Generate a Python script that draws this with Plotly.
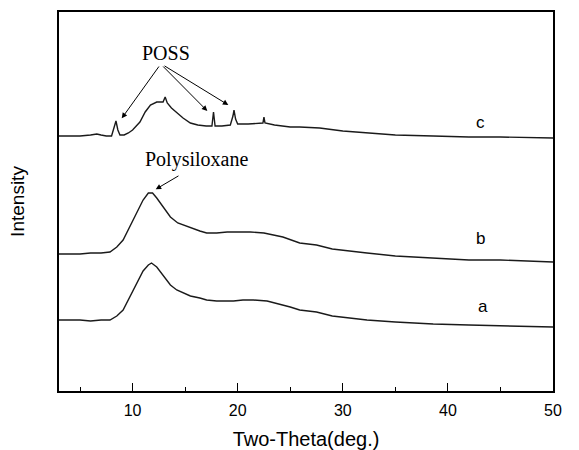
import plotly.graph_objects as go

# Two-theta (deg.) and intensities (arbitrary units)
x_a = [3, 4, 5, 6, 7, 7.85, 8.5, 9.1, 9.75, 10.4, 11, 11.5, 11.8, 12.3, 12.8, 13.2, 13.6, 14.2, 14.8,
       15.5, 16.4, 17.05, 18, 19, 19.6, 20.5, 21.5, 22.8, 24, 25, 25.9, 27.5, 29, 30.5, 32.3, 35,
       38.6, 42, 45, 48, 50]
y_a = [71, 71, 71, 70, 71, 71, 75, 81, 94, 108, 120, 126, 128, 124, 117, 112, 106, 101, 98,
       95, 93, 91, 90, 90, 90, 91, 91, 90, 87, 84, 81, 79, 75, 73, 71, 69,
       67, 66, 65, 64, 64]

x_b = [3, 4, 5, 6, 7, 7.85, 8.5, 9.1, 9.75, 10.4, 11, 11.5, 11.9, 12.3, 12.8, 13.6, 14.3, 15.5,
       16.4, 17.05, 18, 19, 20, 21.2, 22.5, 24.3, 25.9, 27.5, 29, 30.5, 32.3, 35, 38.6, 42, 45,
       48, 50]
y_b = [137, 137, 137, 138, 138, 139, 144, 151, 165, 178, 191, 198, 198, 193, 186, 174, 168, 163,
       160, 158, 158, 159, 159, 159, 158, 154, 148, 146, 142, 140, 138, 135, 133, 131, 131,
       130, 129]

x_c = [3, 4, 5, 6, 6.6, 7, 7.5, 8.0, 8.25, 8.42, 8.6, 8.8, 9.2, 9.6, 10, 10.7, 11.2, 11.7, 12.3,
       12.9, 13.1, 13.3, 13.7, 14.2, 14.8, 15.5, 16.2, 17, 17.55, 17.7, 17.85, 18.5, 19.3, 19.55,
       19.65, 19.8, 20, 21, 22, 22.4, 22.5, 22.6, 23.5, 25, 25.9, 27.8, 30, 32.3, 35, 38.6, 42,
       45, 48, 50]
y_c = [255, 255, 255, 256, 257, 256, 255, 255, 263, 270, 261, 256, 256, 258, 261, 269, 279, 286, 289,
       289, 294, 288, 283, 278, 273, 268, 266, 265, 265, 279, 265, 265, 266, 275,
       281, 272, 267, 267, 268, 268, 274, 268, 266, 264, 264, 263, 260, 258, 256, 255, 254,
       254, 253, 253]

curve_labels = ["a", "b", "c"]
curve_label_pos = [(43.3, 85), (43.1, 153), (43.1, 269)]

x_ticks = [10, 20, 30, 40, 50]

fig = go.Figure()
for xs, ys in [(x_a, y_a), (x_b, y_b), (x_c, y_c)]:
    fig.add_trace(go.Scatter(x=xs, y=ys, mode="lines",
                             line=dict(color="#1a1a1a", width=1.4),
                             showlegend=False, hoverinfo="skip"))

ann = []
for lab, (lx, ly) in zip(curve_labels, curve_label_pos):
    ann.append(dict(x=lx, y=ly, text=lab, showarrow=False, xref="x", yref="y",
                    font=dict(family="Arial, Liberation Sans", size=17, color="black")))

ann.append(dict(x=13.2, y=338, text="POSS", showarrow=False, xref="x", yref="y",
                font=dict(family="Times New Roman, Liberation Serif", size=20, color="black")))
ann.append(dict(x=16.1, y=232, text="Polysiloxane", showarrow=False, xref="x", yref="y",
                font=dict(family="Times New Roman, Liberation Serif", size=20, color="black")))

arrows = [((8.97, 272.7), (12.61, 326)),
          ((17.11, 280), (12.77, 326)),
          ((19.11, 286), (12.9, 326)),
          ((12.2, 201.7), (14.51, 216))]
for (hx, hy), (tx, ty) in arrows:
    ann.append(dict(x=hx, y=hy, ax=tx, ay=ty, xref="x", yref="y", axref="x", ayref="y",
                    text="", showarrow=True, arrowhead=2, arrowsize=1.1, arrowwidth=1,
                    arrowcolor="black", standoff=0, startstandoff=0))

fig.update_layout(
    width=579, height=450,
    margin=dict(l=59, r=26, t=12, b=59),
    paper_bgcolor="white", plot_bgcolor="white",
    font=dict(family="Arial, Liberation Sans", color="black"),
    annotations=ann,
    xaxis=dict(range=[3, 50], tickvals=x_ticks, ticks="inside", ticklen=8, tickwidth=1.2,
               tickcolor="black", showline=True, linecolor="black", linewidth=1.5,
               mirror=True, showgrid=False, zeroline=False, automargin=False,
               tickfont=dict(size=16, color="black"), ticklabelstandoff=4,
               minor=dict(dtick=5, tick0=0, ticks="inside", ticklen=4, tickwidth=1.2,
                          tickcolor="black", showgrid=False),
               title=dict(text="Two-Theta(deg.)", font=dict(size=20, color="black"),
                          standoff=14)),
    yaxis=dict(range=[0, 379], showticklabels=False, ticks="", showline=True,
               linecolor="black", linewidth=1.5, mirror=True, showgrid=False, zeroline=False,
               automargin=False,
               title=dict(text="Intensity", font=dict(size=19, color="black"), standoff=28)),
)

fig.write_html("out.html")
